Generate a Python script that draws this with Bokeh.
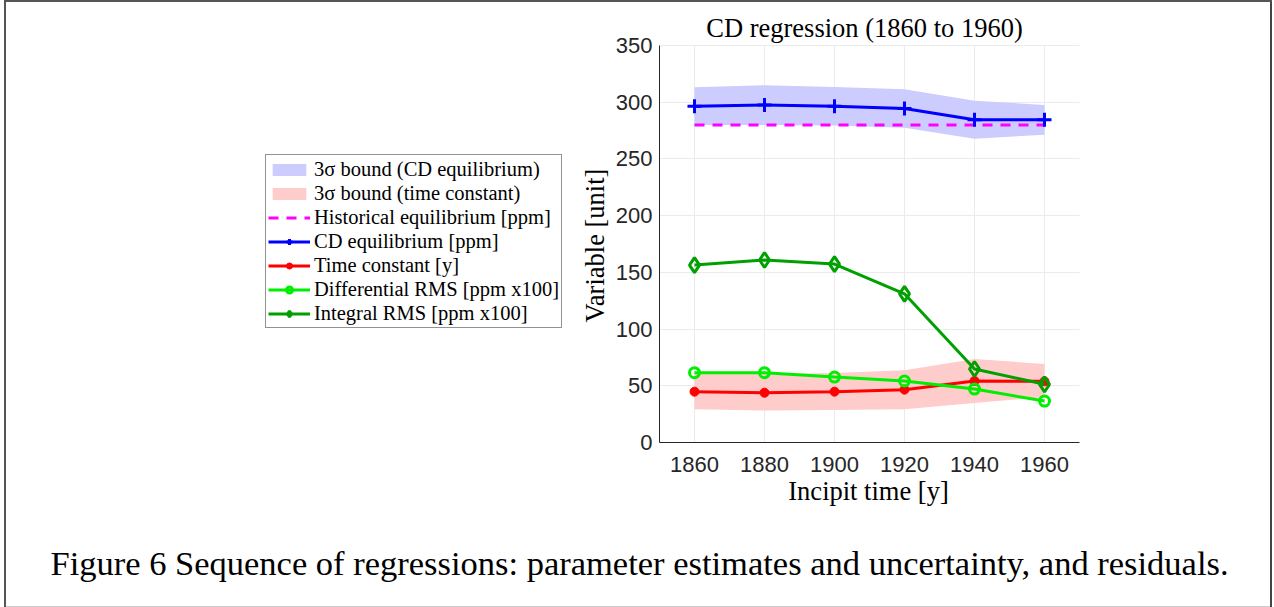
import math

from bokeh.plotting import figure
from bokeh.models import (Range1d, FixedTicker, Legend, LegendItem, Label,
                          BoxAnnotation, ColumnDataSource)
from bokeh.embed import file_html
from bokeh.resources import INLINE

# Incipit years of each regression window
years = [1860, 1880, 1900, 1920, 1940, 1960]

# CD equilibrium estimate [ppm] and its 3-sigma band
cd_equilibrium = [296.5, 297.5, 296.5, 294.5, 284.5, 284.5]
cd_upper = [313.2, 315.0, 313.5, 311.4, 301.4, 297.6]
cd_lower = [280.0, 280.0, 279.5, 277.5, 267.8, 271.4]

# Historical (pre-industrial) equilibrium [ppm]
historical = [280, 280, 280, 280, 280, 280]

# Time constant estimate [y] and its 3-sigma band
time_constant = [44.8, 43.9, 44.8, 46.6, 54.2, 53.9]
tau_upper = [60.7, 60.5, 61.3, 63.6, 73.6, 69.2]
tau_lower = [29.4, 28.3, 28.6, 29.4, 34.8, 40.0]

# Residuals [ppm x100]
differential_rms = [61.6, 61.6, 57.7, 54.2, 47.1, 36.5]
integral_rms = [156.4, 160.9, 157.3, 131.1, 64.8, 51.3]

y_ticks = [0, 50, 100, 150, 200, 250, 300, 350]

# Page geometry: the plot frame fills the whole page, the axes sit inside it
W, H = 1274, 607
X_MIN, X_MAX = 1850, 1970
Y_MIN, Y_MAX = 0, 350
AX_LEFT, AX_TOP, AX_WIDTH, AX_HEIGHT = 659, 45, 420, 397
sx_per_year = AX_WIDTH / (X_MAX - X_MIN)
sy_per_unit = AX_HEIGHT / (Y_MAX - Y_MIN)
ax_bottom_gap = H - AX_TOP - AX_HEIGHT

src = ColumnDataSource(dict(
    year=years, cd=cd_equilibrium, cd_hi=cd_upper, cd_lo=cd_lower,
    hist=historical, tau=time_constant, tau_hi=tau_upper, tau_lo=tau_lower,
    drms=differential_rms, irms=integral_rms,
))

p = figure(frame_width=W, frame_height=H, title=None,
           output_backend="svg", toolbar_location=None,
           x_range=Range1d(X_MIN - AX_LEFT / sx_per_year,
                           X_MAX + (W - AX_LEFT - AX_WIDTH) / sx_per_year),
           y_range=Range1d(Y_MIN - ax_bottom_gap / sy_per_unit,
                           Y_MAX + AX_TOP / sy_per_unit),
           min_border_left=0, min_border_right=0,
           min_border_top=0, min_border_bottom=0)
p.background_fill_color = None
p.border_fill_alpha = 0
p.outline_line_color = None
# thin frame line around the whole figure
p.styles = {"box-shadow": "inset 4px 0 0 0 #ffffff, inset -2px 0 0 0 #ffffff, "
                          "inset 6px 2px 0 0 #555555, inset -4px 0 0 0 #444444, "
                          "inset 0 -1px 0 0 #cccccc"}

# Axes, pinned at the data origin of the chart
for ax in (p.xaxis, p.yaxis):
    ax.major_tick_in = 0
    ax.major_tick_out = 0
    ax.minor_tick_in = 0
    ax.minor_tick_out = 0
    ax.axis_line_color = "#262626"
    ax.axis_line_width = 1
    ax.major_label_text_font = "Liberation Sans"
    ax.major_label_text_font_size = "22px"
    ax.major_label_text_color = "#262626"

p.xaxis.ticker = FixedTicker(ticks=years)
p.xaxis.bounds = (X_MIN, X_MAX)
p.xaxis.fixed_location = Y_MIN
p.xaxis.major_label_standoff = 14
p.yaxis.ticker = FixedTicker(ticks=y_ticks)
p.yaxis.bounds = (Y_MIN, Y_MAX)
p.yaxis.fixed_location = X_MIN
p.yaxis.major_label_standoff = 7

p.xgrid.ticker = FixedTicker(ticks=years)
p.ygrid.ticker = FixedTicker(ticks=y_ticks)
p.grid.grid_line_color = "#ebebeb"
p.grid.grid_line_width = 1

xgrid, ygrid = p.xgrid[0], p.ygrid[0]
if "cross_bounds" in ygrid.properties():
    xgrid.cross_bounds = (Y_MIN, Y_MAX)
    ygrid.cross_bounds = (X_MIN, X_MAX)
else:
    # mask grid lines outside the axes box
    x_lo, x_hi = p.x_range.start, p.x_range.end
    y_lo, y_hi = p.y_range.start, p.y_range.end
    for box in (dict(left=x_lo + 8 / sx_per_year, right=X_MIN, bottom=Y_MIN - 0.5, top=Y_MAX + 0.5),
                dict(left=X_MAX, right=x_hi - 8 / sx_per_year, bottom=Y_MIN - 0.5, top=Y_MAX + 0.5),
                dict(left=X_MIN, right=X_MAX, bottom=y_lo + 3 / sy_per_unit, top=Y_MIN),
                dict(left=X_MIN, right=X_MAX, bottom=Y_MAX, top=y_hi - 3 / sy_per_unit)):
        p.add_layout(BoxAnnotation(fill_color="white", fill_alpha=1, line_alpha=0,
                                   level="underlay", **box))

# Uncertainty bands
band_cd = p.varea(x="year", y1="cd_lo", y2="cd_hi", source=src,
                  fill_color="#ccccff")
band_tau = p.varea(x="year", y1="tau_lo", y2="tau_hi", source=src,
                   fill_color="#ffcccc")

# Historical equilibrium
hist_line = p.line("year", "hist", source=src, line_color="#ff00ff",
                   line_width=3, line_dash="10 8")

# CD equilibrium
cd_line = p.line("year", "cd", source=src, line_color="#0000ff", line_width=3)
cd_pts = p.scatter("year", "cd", source=src, marker="cross", size=14,
                   line_color="#0000ff", line_width=3)

# Time constant
tau_line = p.line("year", "tau", source=src, line_color="#ff0000", line_width=3)
tau_pts = p.scatter("year", "tau", source=src, marker="circle", size=9,
                    line_color="#ff0000", fill_color="#ff0000", line_width=1)

# Differential RMS
drms_line = p.line("year", "drms", source=src, line_color="#00ee00", line_width=3)
drms_pts = p.scatter("year", "drms", source=src, marker="circle", size=10,
                     line_color="#00ee00", fill_color=None, line_width=3)

# Integral RMS
irms_line = p.line("year", "irms", source=src, line_color="#00a000", line_width=3)
irms_pts = p.scatter("year", "irms", source=src, marker="diamond", size=15,
                     line_color="#00a000", fill_color=None, line_width=3)

legend = Legend(items=[
    LegendItem(label="3σ bound (CD equilibrium)", renderers=[band_cd]),
    LegendItem(label="3σ bound (time constant)", renderers=[band_tau]),
    LegendItem(label="Historical equilibrium [ppm]", renderers=[hist_line]),
    LegendItem(label="CD equilibrium [ppm]", renderers=[cd_line, cd_pts]),
    LegendItem(label="Time constant [y]", renderers=[tau_line, tau_pts]),
    LegendItem(label="Differential RMS [ppm x100]", renderers=[drms_line, drms_pts]),
    LegendItem(label="Integral RMS [ppm x100]", renderers=[irms_line, irms_pts]),
], location=(265, H - 328))
legend.margin = 0
legend.padding = 2
legend.spacing = 0
legend.label_height = 24
legend.glyph_height = 15
legend.glyph_width = 42
legend.label_standoff = 4
legend.label_text_font = "Liberation Serif"
legend.label_text_font_size = "20.5px"
legend.label_text_color = "black"
legend.border_line_color = "#262626"
legend.border_line_width = 1
legend.background_fill_color = "white"
legend.background_fill_alpha = 1
p.add_layout(legend)


def page_text(text, x, y, size, angle=0.0):
    """Serif text placed in page pixels (y measured from the page bottom)."""
    return Label(x=x, y=y, x_units="screen", y_units="screen", text=text,
                 angle=angle, text_align="center", text_baseline="alphabetic",
                 text_font="Liberation Serif", text_font_size=size,
                 text_color="black")


# Chart title, axis titles and figure caption
p.add_layout(page_text("CD regression (1860 to 1960)", 864, H - 27, "26.5px"))
p.add_layout(page_text("Incipit time [y]", 868, H - 490, "26.5px"))
p.add_layout(page_text("Variable [unit]", 594, H - 245, "26.5px", angle=math.pi / 2))
p.add_layout(page_text("Figure 6 Sequence of regressions: parameter estimates and "
                       "uncertainty, and residuals.", 639, H - 562, "34.5px"))

open("out.html", "w").write(file_html(p, INLINE))
